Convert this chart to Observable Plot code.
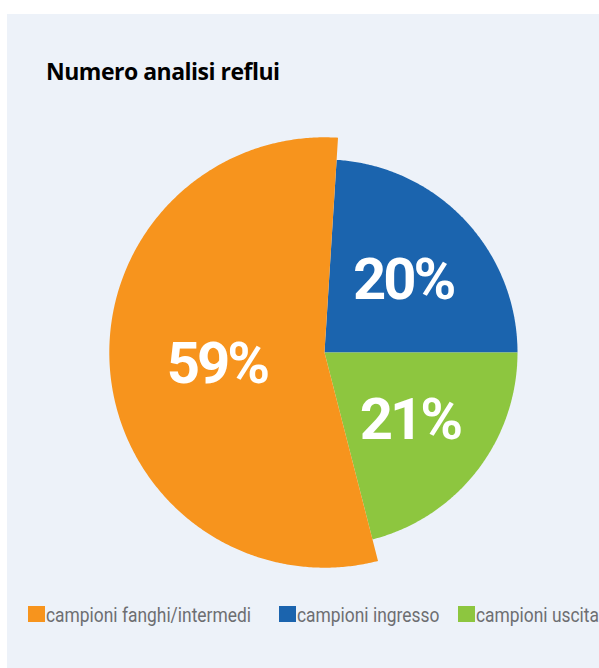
<!DOCTYPE html>
<html>
<head>
<meta charset="utf-8">
<script src="https://cdn.jsdelivr.net/npm/d3@7"></script>
<script src="https://cdn.jsdelivr.net/npm/@observablehq/plot@0.6"></script>
<style>
  html, body { margin: 0; padding: 0; background: #ffffff; }
  #page { position: relative; width: 599px; height: 668px; overflow: hidden; }
  #panel { position: absolute; left: 7px; top: 14px; width: 592px; height: 654px; background: #edf2f9; }
  #title { position: absolute; left: 46px; top: 56px; font-family: "Open Sans", sans-serif; font-weight: 700; font-size: 23px; line-height: 30px; color: #000; letter-spacing: -0.5px; white-space: nowrap; }
  #chart { position: absolute; left: 0; top: 120px; }
  #legend { position: absolute; left: 0; top: 0; width: 599px; height: 668px; font-family: Roboto, sans-serif; font-size: 20px; color: #6d6e71; pointer-events: none; }
  .sw { position: absolute; top: 606px; width: 17px; height: 16px; }
  .tx { position: absolute; top: 605px; line-height: 20px; white-space: nowrap; transform: scaleX(0.87); transform-origin: 0 50%; }
</style>
</head>
<body>
<div id="page">
  <div id="panel"></div>
  <div id="title">Numero analisi reflui</div>
  <div id="chart"></div>
  <div id="legend"></div>
</div>
<script>
// ---- data ----
const categories = ["campioni fanghi/intermedi", "campioni ingresso", "campioni uscita"];
const percentLabels = ["59%", "20%", "21%"];
const sliceShares = [55, 24, 21];            // angular share of each slice as drawn
const colors = ["#f7941d", "#1b64ae", "#8dc63f"];
const pieOrder = [1, 2, 0];                  // clockwise from the top: ingresso, uscita, fanghi
const startDeg = 3.6;

// ---- layout ----
const W = 599, H = 470;
const cx = 324, cy = 232, R = 193;
const radiusFactor = [1.115, 1, 1];          // fanghi slice drawn larger

const pie = d3.pie().sort(null).value(i => sliceShares[i])
  .startAngle(startDeg * Math.PI / 180)
  .endAngle(startDeg * Math.PI / 180 + 2 * Math.PI);
const arcs = pie(pieOrder);

const polys = [];
const labelPts = [];
for (const a of arcs) {
  const i = a.data;
  const r = R * radiusFactor[i];
  polys.push({k: i, x: cx, y: cy});
  const n = Math.max(2, Math.ceil((a.endAngle - a.startAngle) / (Math.PI / 360)));
  for (let j = 0; j <= n; j++) {
    const t = a.startAngle + (a.endAngle - a.startAngle) * j / n;
    polys.push({k: i, x: cx + r * Math.sin(t), y: cy - r * Math.cos(t)});
  }
  polys.push({k: i, x: cx, y: cy});
  const m = (a.startAngle + a.endAngle) / 2;
  const lr = R * 0.56;
  labelPts.push({k: i, label: percentLabels[i], x: cx + lr * Math.sin(m), y: cy - lr * Math.cos(m)});
}

const plot = Plot.plot({
  width: W, height: H,
  margin: 0,
  style: {background: "transparent", overflow: "visible"},
  x: {type: "linear", domain: [0, W], range: [0, W], axis: null},
  y: {type: "linear", domain: [0, H], range: [0, H], axis: null},
  color: {type: "ordinal", domain: [0, 1, 2], range: colors},
  marks: [
    Plot.line(polys, {x: "x", y: "y", z: "k", fill: "k", stroke: "none", curve: "linear"}),
    Plot.text(labelPts, {x: "x", y: "y", text: "label", fill: "white",
      fontSize: 58, fontWeight: 700, fontFamily: "Roboto, sans-serif",
      textAnchor: "middle", lineAnchor: "middle", dy: 2})
  ]
});
plot.querySelectorAll("text").forEach(t => t.setAttribute("letter-spacing", "-3"));
document.getElementById("chart").appendChild(plot);

// ---- legend ----
const legendLeft = [28, 279, 458];
const legend = document.getElementById("legend");
categories.forEach((c, i) => {
  const sw = document.createElement("div");
  sw.className = "sw";
  sw.style.left = legendLeft[i] + "px";
  sw.style.background = colors[i];
  const tx = document.createElement("div");
  tx.className = "tx";
  tx.style.left = (legendLeft[i] + 18) + "px";
  tx.textContent = c;
  legend.appendChild(sw); legend.appendChild(tx);
});
</script>
</body>
</html>
